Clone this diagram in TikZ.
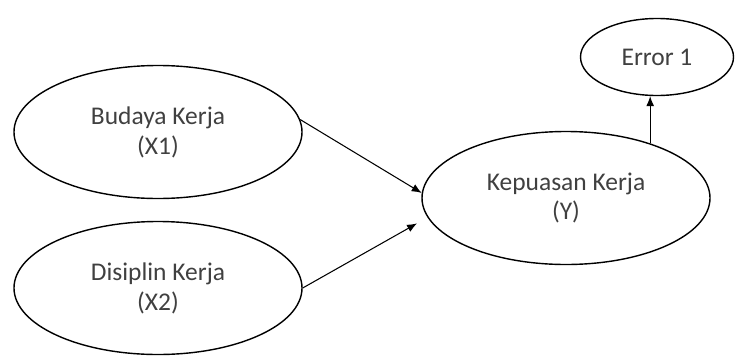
\documentclass[tikz,border=0pt]{standalone}
\usepackage{fontspec}
\setmainfont{Carlito}
\usetikzlibrary{arrows.meta, shapes.geometric}

\begin{document}
\begin{tikzpicture}[
  every node/.style={font=\fontsize{14.5}{17}\selectfont, text=black!75},
  var/.style={draw, ellipse, line width=0.8pt, inner sep=0pt, minimum width=57.6mm, minimum height=26.6mm, align=center},
  err/.style={draw, ellipse, line width=0.8pt, inner sep=0pt, minimum width=30.6mm, minimum height=15.4mm, align=center},
  arr/.style={-{Latex[length=2mm,width=1.6mm]}, line width=0.6pt}
]
  \useasboundingbox (0,0) rectangle (14.7,7.12);
  \node[var] (X1) at (3.16,4.48) {Budaya Kerja\\(X1)};
  \node[var] (X2) at (3.16,1.36) {Disiplin Kerja\\(X2)};
  \node[var] (Y) at (11.32,3.16) {Kepuasan Kerja\\(Y)};
  \node[err] (E) at (13.14,5.98) {Error 1};
  \draw[arr] (X1.5) -- (Y.178);
  \draw[arr, shorten >=2.4mm] (X2.east) -- (Y.188);
  \draw[arr] (Y.33) -- (Y.33 |- E.south);
\end{tikzpicture}
\end{document}
